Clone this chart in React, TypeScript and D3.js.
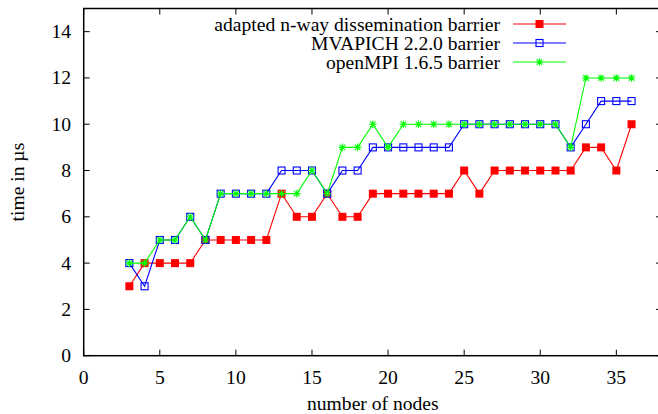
import React from 'react';
import * as d3 from 'd3';

// number of nodes
const nodes = [3, 4, 5, 6, 7, 8, 9, 10, 11, 12, 13, 14, 15, 16, 17, 18, 19, 20, 21, 22, 23, 24, 25, 26, 27, 28, 29, 30, 31, 32, 33, 34, 35, 36];

// time in µs per series
const adapted = [3, 4, 4, 4, 4, 5, 5, 5, 5, 5, 7, 6, 6, 7, 6, 6, 7, 7, 7, 7, 7, 7, 8, 7, 8, 8, 8, 8, 8, 8, 9, 9, 8, 10];
const mvapich = [4, 3, 5, 5, 6, 5, 7, 7, 7, 7, 8, 8, 8, 7, 8, 8, 9, 9, 9, 9, 9, 9, 10, 10, 10, 10, 10, 10, 10, 9, 10, 11, 11, 11];
const openmpi = [4, 4, 5, 5, 6, 5, 7, 7, 7, 7, 7, 7, 8, 7, 9, 9, 10, 9, 10, 10, 10, 10, 10, 10, 10, 10, 10, 10, 10, 9, 12, 12, 12, 12];

const xTicks = [0, 5, 10, 15, 20, 25, 30, 35];
const yTicks = [0, 2, 4, 6, 8, 10, 12, 14];

const seriesNames = ['adapted n-way dissemination barrier', 'MVAPICH 2.2.0 barrier', 'openMPI 1.6.5 barrier'];
const seriesColors = ['#ff0000', '#0000ff', '#00ff00'];
const seriesMarkers = ['filled', 'open', 'star'];

const W = 658;
const H = 414;
const left = 83.7;
const right = 662;
const top = 8.5;
const bottom = 355.7;
const font = '"Liberation Serif", "Times New Roman", serif';
const fs = 19.6;

const Marker = ({ kind, x, y, color }) => {
  if (kind === 'filled') {
    return <rect x={x - 4} y={y - 4} width={8} height={8} fill={color} />;
  }
  if (kind === 'open') {
    return <rect x={x - 3.5} y={y - 3.5} width={7} height={7} fill="none" stroke={color} strokeWidth={1.1} />;
  }
  const s = 3.8;
  const d = 2.8;
  return (
    <path
      d={`M${x - s},${y}H${x + s}M${x},${y - s}V${y + s}M${x - d},${y - d}L${x + d},${y + d}M${x - d},${y + d}L${x + d},${y - d}`}
      stroke={color}
      strokeWidth={1.1}
      fill="none"
    />
  );
};

export default function App() {
  const x = d3.scaleLinear().domain([0, 38]).range([left, right]);
  const y = d3.scaleLinear().domain([0, 15]).range([bottom, top]);

  const allSeries = [adapted, mvapich, openmpi];
  const line = d3
    .line<[number, number]>()
    .x((d) => x(d[0]))
    .y((d) => y(d[1]));

  const tickLen = 6;

  return (
    <svg
      width={W}
      height={H}
      style={{ position: 'absolute', left: 0, top: 0, background: '#fff' }}
      fontFamily={font}
    >
      {/* ticks, mirrored on all sides */}
      {xTicks.map((t) => (
        <g key={'x' + t}>
          <line x1={x(t)} x2={x(t)} y1={bottom} y2={bottom - tickLen} stroke="#000" strokeWidth={1} />
          <line x1={x(t)} x2={x(t)} y1={top} y2={top + tickLen} stroke="#000" strokeWidth={1} />
          <text x={x(t)} y={384} textAnchor="middle" fontSize={fs}>
            {t}
          </text>
        </g>
      ))}
      {yTicks.map((t) => (
        <g key={'y' + t}>
          <line x1={left} x2={left + tickLen} y1={y(t)} y2={y(t)} stroke="#000" strokeWidth={1} />
          <line x1={right} x2={right - tickLen} y1={y(t)} y2={y(t)} stroke="#000" strokeWidth={1} />
          <text x={71} y={y(t) + 6.5} textAnchor="end" fontSize={fs}>
            {t}
          </text>
        </g>
      ))}

      {/* series */}
      {allSeries.map((vals, i) => {
        const pts = nodes.map((n, j) => [n, vals[j]] as [number, number]);
        return (
          <g key={'s' + i}>
            <path d={line(pts) || ''} fill="none" stroke={seriesColors[i]} strokeWidth={1.1} />
            {pts.map((p, j) => (
              <Marker key={j} kind={seriesMarkers[i]} x={x(p[0])} y={y(p[1])} color={seriesColors[i]} />
            ))}
          </g>
        );
      })}

      {/* legend */}
      {seriesNames.map((name, i) => {
        const ly = 24 + i * 19;
        return (
          <g key={'l' + i}>
            <text x={500} y={ly + 6.5} textAnchor="end" fontSize={fs}>
              {name}
            </text>
            <line x1={513} x2={566} y1={ly} y2={ly} stroke={seriesColors[i]} strokeWidth={1.1} />
            <Marker kind={seriesMarkers[i]} x={539.5} y={ly} color={seriesColors[i]} />
          </g>
        );
      })}

      {/* frame */}
      <rect x={left} y={top} width={right - left} height={bottom - top} fill="none" stroke="#000" strokeWidth={1.5} />

      {/* axis titles */}
      <text x={(left + right) / 2} y={410} textAnchor="middle" fontSize={fs}>
        number of nodes
      </text>
      <text
        transform={`translate(24,${(top + bottom) / 2}) rotate(-90)`}
        textAnchor="middle"
        fontSize={fs}
      >
        time in µs
      </text>
    </svg>
  );
}
